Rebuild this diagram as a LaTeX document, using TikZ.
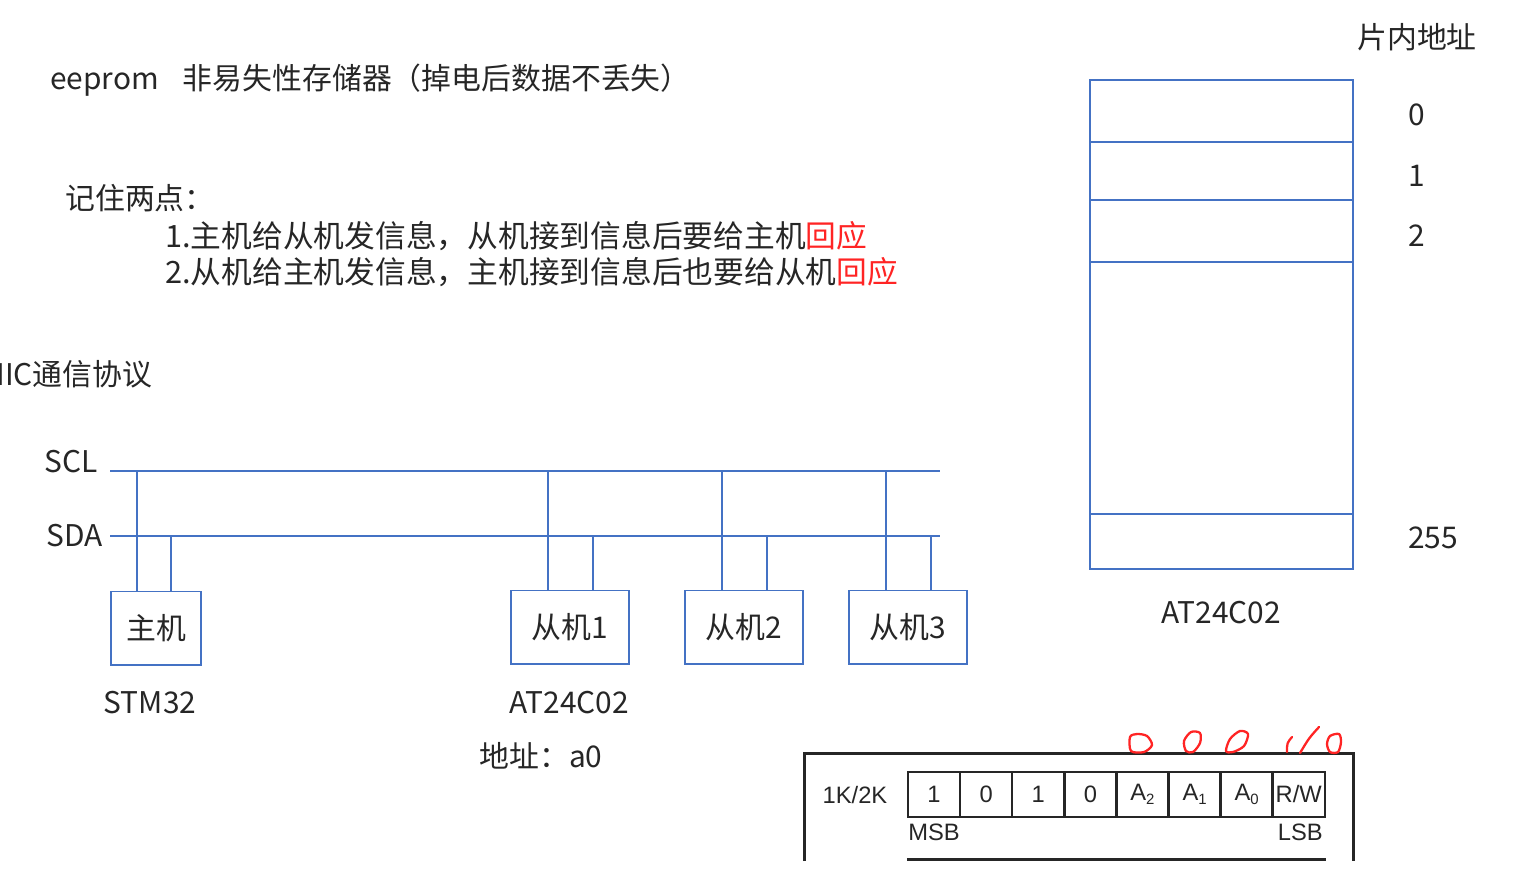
\documentclass[tikz,border=0pt]{standalone}
\usepackage{fontspec}
\setmainfont{Noto Sans CJK SC}
\newfontfamily\dsfont{Liberation Sans}
\usetikzlibrary{positioning}
\definecolor{linkblue}{HTML}{4472C4}
\definecolor{inkgray}{HTML}{262626}
\definecolor{markred}{HTML}{FF2424}
\newcommand{\bitsub}[1]{\raisebox{-0.35ex}{\fontsize{8.5}{8.5}\selectfont #1}}

\begin{document}
\begin{tikzpicture}[x=0.02cm, y=-0.02cm,
        txt/.style={font=\fontsize{17}{20}\selectfont, text=inkgray, inner sep=0pt},
        bus/.style={draw=linkblue, line width=0.85pt},
        chip/.style={txt, draw=linkblue, line width=0.85pt, minimum height=1.47cm},
        cell/.style={draw=linkblue, line width=0.85pt, minimum width=5.26cm, inner sep=0pt, outer sep=0pt},
        bitbox/.style={draw=black!85, line width=1.4pt, minimum width=1.042cm, minimum height=0.9cm, inner sep=0pt, text=black!85, font=\dsfont\fontsize{13.5}{15}\selectfont},
        dstxt/.style={font=\dsfont\fontsize{13.5}{15}\selectfont, text=black!85, inner sep=0pt},
        frame/.style={draw=black!85, line width=1.7pt},
        hand/.style={draw=markred, line width=1.3pt, line cap=round, line join=round}
    ]
        \useasboundingbox (0,0) rectangle (1527,883);
        \clip (0,0) rectangle (1527,883);

        % Notes
        \node (title) [txt, anchor=west] at (50,80) {eeprom\hspace{0.8em}非易失性存储器（掉电后数据不丢失）};
        \node (remember) [txt, anchor=west] at (65,198) {记住两点：};
        \node (rule1) [txt, anchor=west, font=\fontsize{17.5}{20}\selectfont] at (165,236) {1.主机给从机发信息，从机接到信息后要给主机\textcolor{markred}{回应}};
        \node (rule2) [txt, anchor=west, font=\fontsize{17.5}{20}\selectfont] at (165,272) {2.从机给主机发信息，主机接到信息后也要给从机\textcolor{markred}{回应}};
        \node (iic) [txt, anchor=west] at (-4,374) {IIC通信协议};

        % Bus
        \node (scllbl) [txt] at (71,462) {SCL};
        \node (sdalbl) [txt] at (75,536) {SDA};
        \coordinate (sclL) at (110,471);
        \coordinate (sclR) at (940,471);
        \coordinate (sdaL) at (110,536);
        \coordinate (sdaR) at (940,536);
        \draw [bus] (sclL) -- (sclR);
        \draw [bus] (sdaL) -- (sdaR);

        % Devices
        \node (master) [chip, minimum width=1.8cm] at (156,628) {主机};
        \node (slave1) [chip, minimum width=2.36cm] at (570,627) {从机1};
        \node (slave2) [chip, minimum width=2.36cm] at (744,627) {从机2};
        \node (slave3) [chip, minimum width=2.36cm] at (908,627) {从机3};
        \node (stm) [txt] at (150,703) {STM32};
        \node (eep) [txt] at (569,703) {AT24C02};
        \node (addr) [txt] at (541,756) {地址：a0};

        \foreach \dev/\dl/\dr in {master/-0.38/0.30, slave1/-0.44/0.46, slave2/-0.44/0.46, slave3/-0.44/0.46} {
            \draw [bus] ([xshift=\dl cm]\dev.north) coordinate (tapc) -- (tapc |- sclL);
            \draw [bus] ([xshift=\dr cm]\dev.north) coordinate (tapd) -- (tapd |- sdaL);
        }

        % Memory map
        \node (r0) [cell, minimum height=1.24cm] at (1221.5,111) {};
        \node (r1) [cell, minimum height=1.16cm, below=0pt of r0] {};
        \node (r2) [cell, minimum height=1.24cm, below=0pt of r1] {};
        \node (rmid) [cell, minimum height=5.04cm, below=0pt of r2] {};
        \node (r255) [cell, minimum height=1.1cm, below=0pt of rmid] {};
        \node (maphead) [txt] at (1417,37) {片内地址};
        \node (a0) [txt] at (1417,115) {0};
        \node (a1) [txt] at (1417,176) {1};
        \node (a2) [txt] at (1417,236) {2};
        \node (a255) [txt] at (1433,538) {255};
        \node (chipname) [txt] at (1221,613) {AT24C02};

        % Device address byte
        \draw [frame] (804,861) -- (804,753) -- (1353,753) -- (1353,861);
        \node (size) [dstxt] at (855,795) {1K/2K};
        \foreach \lbl [count=\i] in {1,0,1,0,A\bitsub{2},A\bitsub{1},A\bitsub{0},R/W}
            \node (b\i) [bitbox] at ({934.05+52.1*(\i-1)},794.5) {\lbl};
        \node (msb) [dstxt, anchor=west] at (908,832) {MSB};
        \node (lsb) [dstxt, anchor=east] at (1323,832) {LSB};
        \draw [frame] (b1.west |- 0,859) -- (b8.east |- 0,859);

        % handwritten bits
        \draw [hand] plot[smooth cycle] coordinates {(1130,737) (1131,751) (1144,752) (1152,745) (1147,736) (1137,734)};
        \draw [hand] plot[smooth cycle] coordinates {(1186,751) (1184,741) (1191,732) (1200,733) (1200,743) (1193,752)};
        \draw [hand] plot[smooth cycle] coordinates {(1226,751) (1230,739) (1240,731) (1248,734) (1244,746) (1233,752)};
        \draw [hand] (1292,737) .. controls (1287,743) .. (1287,752);
        \draw [hand] (1319,727) .. controls (1309,738) .. (1300,753);
        \draw [hand] plot[smooth cycle] coordinates {(1330,736) (1339,734) (1341,742) (1338,752) (1330,752) (1327,744)};
    \end{tikzpicture}
\end{document}
